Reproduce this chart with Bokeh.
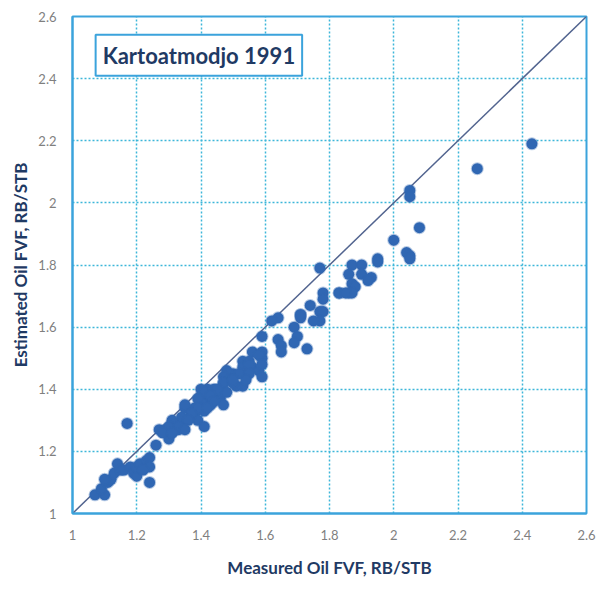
from bokeh.plotting import figure
from bokeh.models import Range1d, FixedTicker, Label
from bokeh.embed import file_html
from bokeh.resources import INLINE

measured = [2.43, 2.26, 2.05, 2.05, 2.08, 2.00, 2.04, 2.05, 2.05, 1.95, 1.95,
            1.87, 1.90, 1.86, 1.90, 1.93, 1.92, 1.87, 1.88, 1.83, 1.86, 1.87,
            1.77, 1.78, 1.78, 1.77, 1.78, 1.77, 1.74, 1.71, 1.71, 1.69, 1.70,
            1.69, 1.64, 1.64, 1.65, 1.65, 1.73, 1.59, 1.56, 1.59, 1.59, 1.53,
            1.55, 1.56, 1.53, 1.58, 1.59, 1.50, 1.48, 1.47, 1.49, 1.53, 1.51,
            1.47, 1.42, 1.44, 1.40, 1.41, 1.46, 1.43, 1.47, 1.41,
            1.17, 1.24, 1.07, 1.10, 1.09, 1.11, 1.12, 1.10, 1.13, 1.14, 1.15,
            1.16, 1.18, 1.19, 1.20, 1.20, 1.21, 1.23, 1.24, 1.24, 1.22, 1.26,
            1.27, 1.29, 1.30, 1.31, 1.33, 1.33, 1.35, 1.34, 1.37, 1.38, 1.39,
            1.41, 1.38, 1.40, 1.41, 1.44, 1.46, 1.47, 1.48, 1.50,
            1.58, 1.55, 1.59, 1.52, 1.55, 1.50, 1.54, 1.45, 1.43, 1.39, 1.44,
            1.35, 1.39, 1.42, 1.37, 1.34, 1.31, 1.36, 1.30, 1.33, 1.28, 1.35,
            1.31, 1.83, 1.85, 1.75, 1.71, 1.62]
estimated = [2.19, 2.11, 2.04, 2.02, 1.92, 1.88, 1.84, 1.83, 1.82, 1.82, 1.81,
             1.80, 1.80, 1.77, 1.77, 1.76, 1.75, 1.74, 1.73, 1.71, 1.71, 1.71,
             1.79, 1.71, 1.69, 1.65, 1.65, 1.62, 1.67, 1.64, 1.63, 1.60, 1.57,
             1.55, 1.63, 1.56, 1.54, 1.52, 1.53, 1.57, 1.52, 1.52, 1.50, 1.49,
             1.49, 1.47, 1.47, 1.46, 1.44, 1.45, 1.46, 1.44, 1.43, 1.41, 1.41,
             1.42, 1.40, 1.39, 1.40, 1.37, 1.37, 1.35, 1.35, 1.33,
             1.29, 1.10, 1.06, 1.06, 1.08, 1.10, 1.11, 1.11, 1.13, 1.16, 1.14,
             1.14, 1.15, 1.13, 1.12, 1.15, 1.16, 1.17, 1.18, 1.15, 1.14, 1.22,
             1.27, 1.27, 1.24, 1.26, 1.27, 1.28, 1.34, 1.30, 1.31, 1.32, 1.30,
             1.28, 1.34, 1.36, 1.39, 1.40, 1.39, 1.42, 1.39, 1.42,
             1.51, 1.48, 1.48, 1.45, 1.45, 1.43, 1.43, 1.40, 1.38, 1.37, 1.36,
             1.35, 1.34, 1.34, 1.32, 1.31, 1.30, 1.30, 1.28, 1.28, 1.26, 1.27,
             1.26, 1.71, 1.71, 1.62, 1.64, 1.62]

ref_line = [1.0, 2.6]
tick_values = [1.0, 1.2, 1.4, 1.6, 1.8, 2.0, 2.2, 2.4, 2.6]
tick_labels = ["1", "1.2", "1.4", "1.6", "1.8", "2", "2.2", "2.4", "2.6"]
title_text = "Kartoatmodjo 1991"
x_label = "Measured Oil FVF, RB/STB"
y_label = "Estimated Oil FVF, RB/STB"

FONT = "Lato"
GRID = "#3db6d9"
FRAME = "#3ba3dc"
NAVY = "#1f3a64"
DOT = "#3067b3"

p = figure(width=600, height=588, output_backend="svg", toolbar_location=None,
           x_range=Range1d(1.0, 2.6), y_range=Range1d(1.0, 2.6),
           min_border_left=72, min_border_right=14, min_border_top=16,
           min_border_bottom=75)
p.background_fill_color = "white"
p.border_fill_color = "white"
p.outline_line_color = FRAME
p.outline_line_width = 2

overrides = {v: l for v, l in zip(tick_values, tick_labels)}
for ax in (p.xaxis[0], p.yaxis[0]):
    ax.ticker = FixedTicker(ticks=tick_values)
    ax.major_label_overrides = overrides
    ax.major_tick_line_color = None
    ax.minor_tick_line_color = None
    ax.axis_line_color = FRAME
    ax.axis_line_width = 2
    ax.major_label_text_font = FONT
    ax.major_label_text_font_size = "13px"
    ax.major_label_text_color = "#7f7f7f"
    ax.axis_label_text_font = FONT
    ax.axis_label_text_font_size = "17px"
    ax.axis_label_text_font_style = "bold"
    ax.axis_label_text_color = NAVY

p.xaxis.axis_label = x_label
p.yaxis.axis_label = y_label
p.xaxis.major_label_standoff = 10
p.xaxis.axis_label_standoff = 14
p.yaxis.major_label_standoff = 10
p.yaxis.axis_label_standoff = 4

for g in (p.xgrid[0], p.ygrid[0]):
    g.ticker = FixedTicker(ticks=tick_values)
    g.grid_line_color = GRID
    g.grid_line_width = 1.5
    g.grid_line_dash = "2 2"

p.line(x=ref_line, y=ref_line, line_color="#52648f", line_width=1.5)

p.scatter(x=measured, y=estimated, size=11, fill_color=DOT, line_color=DOT,
          line_alpha=0.35, line_width=2, fill_alpha=1.0)

lab = Label(x=1.072, y=2.475, text=title_text, text_font=FONT,
            text_font_size="22px", text_font_style="bold", text_color=NAVY,
            text_baseline="middle", text_align="left",
            border_line_color=FRAME, border_line_width=2,
            background_fill_color="white", padding=7)
p.add_layout(lab)

open("out.html", "w").write(file_html(p, INLINE))
